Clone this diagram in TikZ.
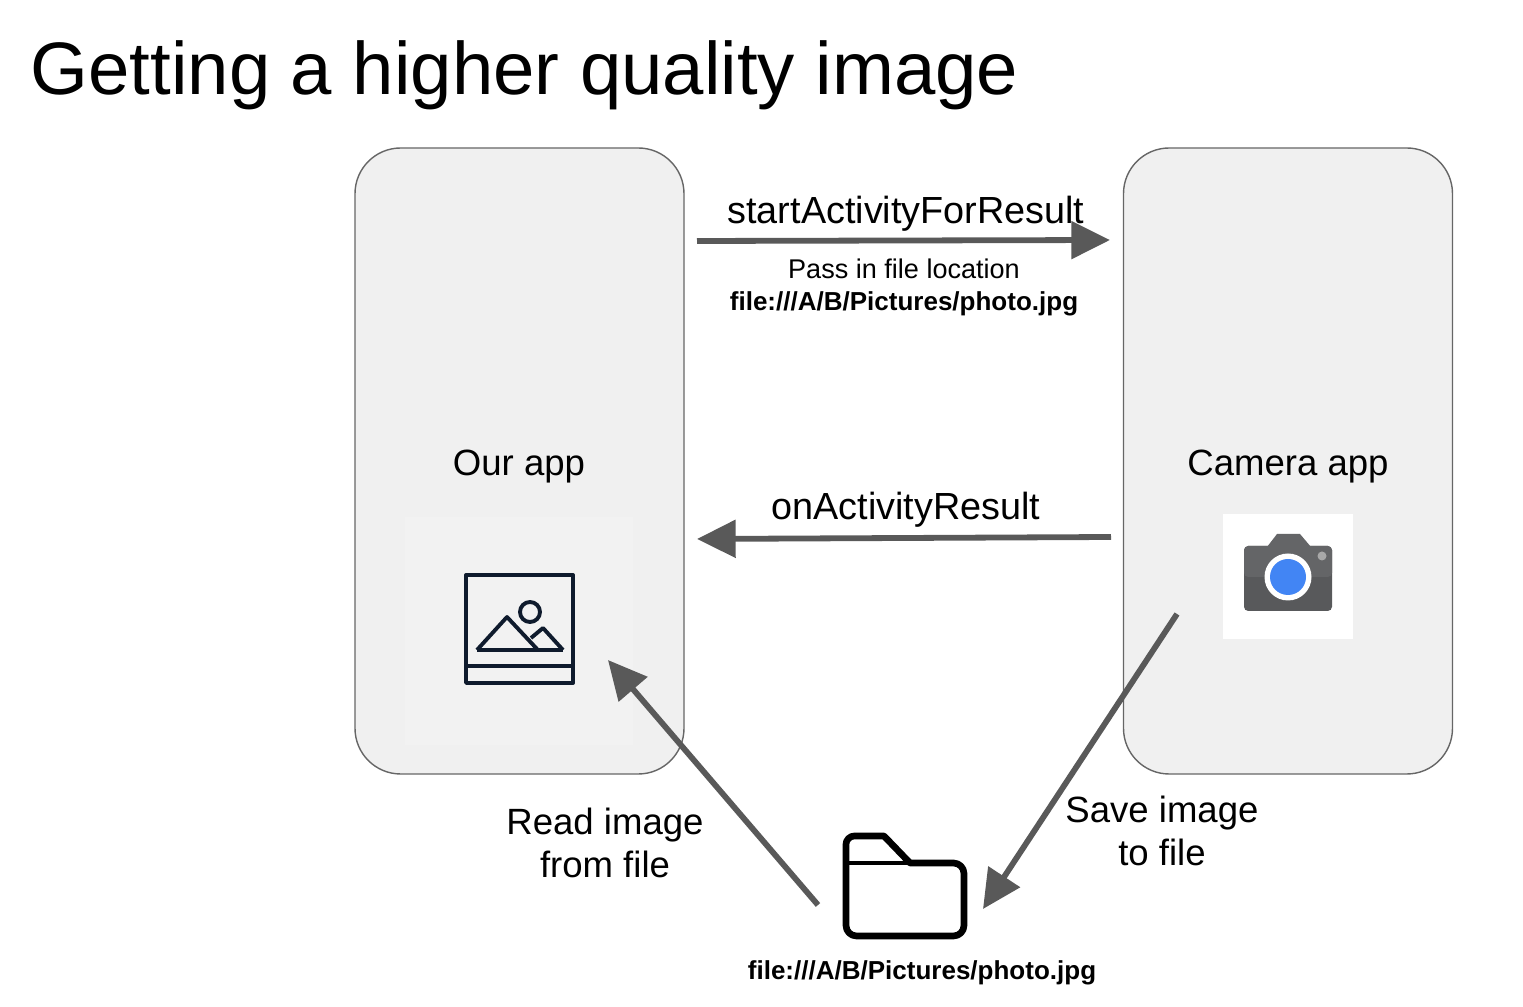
\documentclass[tikz,border=0pt]{standalone}
\usepackage{fontspec}
\setmainfont{Liberation Sans}
\usetikzlibrary{arrows.meta,positioning}
\definecolor{phonefill}{HTML}{F0F0F0}
\definecolor{phoneinner}{HTML}{F2F2F2}
\definecolor{phoneline}{HTML}{666666}
\definecolor{flow}{HTML}{595959}
\definecolor{iconnavy}{HTML}{0F1B2D}
\definecolor{cambody}{HTML}{58595B}
\definecolor{camtop}{HTML}{646567}
\definecolor{camdot}{HTML}{A8A8A8}
\definecolor{camblue}{HTML}{4285F4}

\begin{document}
\begin{tikzpicture}[
  >=Stealth,
  ttl/.style={font=\fontsize{21.15}{26}\selectfont, anchor=base west, inner sep=0pt},
  lbl/.style={font=\fontsize{10.4}{12.2}\selectfont, align=center, inner sep=0pt},
  call/.style={font=\fontsize{10.75}{12.2}\selectfont, anchor=base, inner sep=0pt},
  small/.style={font=\fontsize{7.7}{9}\selectfont, anchor=base, inner sep=0pt},
  smallb/.style={font=\fontsize{7.4}{9}\selectfont\bfseries, anchor=base, inner sep=0pt},
  phone/.style={rectangle, rounded corners=13pt, draw=phoneline, fill=phonefill, line width=0.4pt, minimum width=3.29cm, minimum height=6.26cm},
  flowarr/.style={-{Triangle[length=11pt,width=10.5pt]}, line width=1.65pt, color=flow},
  picline/.style={draw=iconnavy, line width=1.1pt, line join=round},
  foldline/.style={draw=black, line width=1.9pt, line join=round},
]
\useasboundingbox (0,0) rectangle (15.23,10.07);
\node[ttl] (title) at (0.30,9.12) {Getting a higher quality image};
% the two apps
\node[phone] (ourapp) at (5.195,5.46) {};
\node[phone] (camapp) at (12.88,5.46) {};
\fill[phoneinner] (4.05,2.62) rectangle (6.33,4.90);
\node[lbl] (ourlbl) at (5.19,5.40) {Our app};
\node[lbl] (camlbl) at (12.88,5.40) {Camera app};
% picture icon
\draw[picline] (4.66,3.24) rectangle (5.73,4.32);
\draw[picline] (4.66,3.41)--(5.73,3.41);
\draw[picline] (5.30,3.95) circle (0.10);
\draw[picline] (4.77,3.57)--(5.07,3.90)--(5.37,3.58);
\draw[picline] (5.31,3.69)--(5.43,3.79)--(5.63,3.57);
\draw[picline] (4.77,3.57)--(5.63,3.57);
% camera icon
\fill[white] (12.23,3.68) rectangle (13.53,4.93);
\fill[cambody,rounded corners=1.2pt] (12.44,3.96) rectangle (13.32,4.61);
\fill[camtop,rounded corners=1.2pt] (12.44,4.30) rectangle (13.32,4.61);
\fill[camtop] (12.67,4.60)--(12.77,4.73)--(13.00,4.73)--(13.11,4.60)--cycle;
\fill[white] (12.88,4.30) circle (0.235);
\fill[camblue] (12.88,4.30) circle (0.18);
\fill[camdot] (13.22,4.51) circle (0.045);
% folder icon
\draw[foldline] (8.46,1.44)[rounded corners=2.4pt]--(8.46,1.71)[sharp corners]--(8.84,1.71)--(9.10,1.44)[rounded corners=3pt]--(9.64,1.44)--(9.64,0.71)--(8.46,0.71)--cycle;
\draw[foldline,line width=1.2pt] (8.46,1.44)--(9.10,1.44);
% labels
\node[call] (startlbl) at (9.06,7.83) {startActivityForResult};
\node[small] (passlbl) at (9.04,7.28) {Pass in file location};
\node[smallb] (pathtop) at (9.04,6.96) {file:///A/B/Pictures/photo.jpg};
\node[call] (resultlbl) at (9.06,4.87) {onActivityResult};
\node[lbl] (readlbl) at (6.05,1.64) {Read image\\from file};
\node[lbl] (savelbl) at (11.62,1.76) {Save image\\to file};
\node[smallb] (pathbot) at (9.22,0.27) {file:///A/B/Pictures/photo.jpg};
% arrows
\coordinate (startA) at (6.97,7.66); \coordinate (startB) at (11.10,7.67);
\coordinate (resA) at (11.11,4.70); \coordinate (resB) at (6.97,4.68);
\coordinate (readA) at (8.18,1.02); \coordinate (readB) at (6.08,3.47);
\coordinate (saveA) at (11.77,3.93); \coordinate (saveB) at (9.83,0.98);
\draw[flowarr] (startA)--(startB);
\draw[flowarr] (resA)--(resB);
\draw[flowarr] (readA)--(readB);
\draw[flowarr] (saveA)--(saveB);
\end{tikzpicture}
\end{document}
